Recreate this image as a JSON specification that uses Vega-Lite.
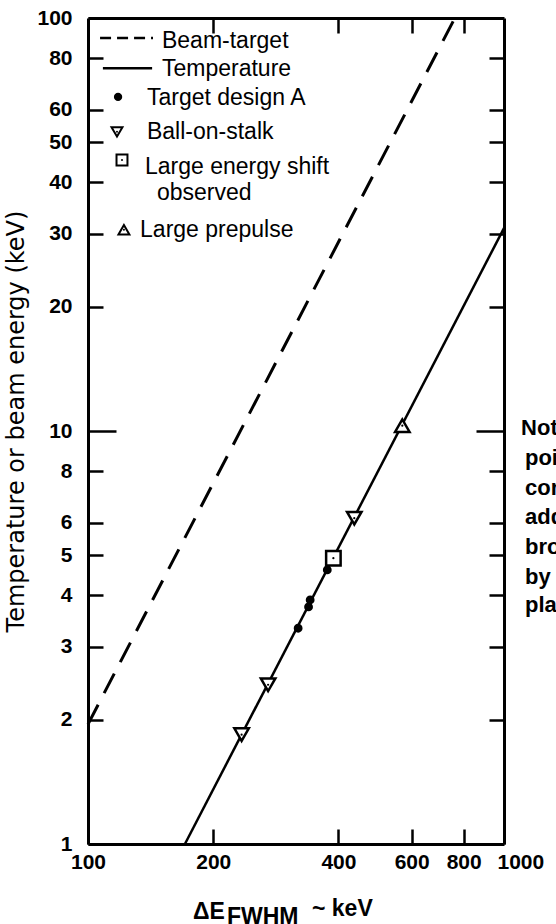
{
  "$schema": "https://vega.github.io/schema/vega-lite/v6.json",
  "width": 416,
  "height": 826,
  "autosize": {"type": "none"},
  "padding": {"left": 88, "top": 18, "right": 52, "bottom": 80},
  "background": "white",
  "config": {"view": {"stroke": null}, "axis": {"grid": false}},
  "datasets": {
    "lines": [
      {"series": "Beam-target", "x": 100, "y": 1.95},
      {"series": "Beam-target", "x": 762, "y": 100},
      {"series": "Temperature", "x": 171, "y": 1},
      {"series": "Temperature", "x": 1000, "y": 31}
    ],
    "points": [
      {"x": 569.6, "y": 10.3, "type": "Large prepulse"},
      {"x": 436.6, "y": 6.15, "type": "Ball-on-stalk"},
      {"x": 388.9, "y": 4.92, "type": "Large energy shift observed"},
      {"x": 376, "y": 4.61, "type": "Target design A"},
      {"x": 342, "y": 3.9, "type": "Target design A"},
      {"x": 339, "y": 3.75, "type": "Target design A"},
      {"x": 320, "y": 3.33, "type": "Target design A"},
      {"x": 271, "y": 2.43, "type": "Ball-on-stalk"},
      {"x": 234, "y": 1.84, "type": "Ball-on-stalk"}
    ],
    "legendLines": [
      {"series": "Beam-target", "x": 106.9, "x2": 143.3, "y": 89.5},
      {"series": "Temperature", "x": 108.6, "x2": 142.6, "y": 75.6}
    ],
    "legendSymbols": [
      {"x": 118.1, "y": 64.4, "type": "Target design A"},
      {"x": 117.4, "y": 53.0, "type": "Ball-on-stalk"},
      {"x": 120.7, "y": 45.3, "type": "Large energy shift observed"},
      {"x": 122.0, "y": 30.7, "type": "Large prepulse"}
    ],
    "legendText": [
      {"x": 150.6, "y": 88.0, "label": "Beam-target"},
      {"x": 150.6, "y": 75.4, "label": "Temperature"},
      {"x": 138.6, "y": 64.0, "label": "Target design A"},
      {"x": 138.6, "y": 53.0, "label": "Ball-on-stalk"},
      {"x": 137.1, "y": 43.6, "label": "Large energy shift"},
      {"x": 146.5, "y": 37.7, "label": "observed"},
      {"x": 133.4, "y": 30.7, "label": "Large prepulse"}
    ],
    "note": [
      {"x": 1099, "y": 10.17, "label": "Note: Data"},
      {"x": 1123, "y": 8.6, "label": "points"},
      {"x": 1123, "y": 7.28, "label": "corrected for"},
      {"x": 1123, "y": 6.19, "label": "additional"},
      {"x": 1123, "y": 5.24, "label": "broadening"},
      {"x": 1123, "y": 4.43, "label": "by"},
      {"x": 1123, "y": 3.79, "label": "plasma"}
    ],
    "xtitle": [
      {"x": 178.8, "y": 0.684, "label": "ΔE"},
      {"x": 215.8, "y": 0.664, "label": "FWHM"},
      {"x": 345.5, "y": 0.697, "label": "~ keV"}
    ]
  },
  "resolve": {"axis": {"x": "independent", "y": "independent"}},
  "layer": [
    {
      "data": {"name": "lines"},
      "transform": [{"filter": "datum.series == 'Beam-target'"}],
      "mark": {"type": "line", "stroke": "black", "strokeWidth": 3, "strokeDash": [22, 13]},
      "encoding": {
        "x": {"field": "x", "type": "quantitative",
          "scale": {"type": "log", "domain": [100, 1000], "nice": false},
          "axis": {"orient": "bottom", "title": null, "values": [100, 200, 400, 600, 800, 1000], "format": "d",
            "domain": true, "domainColor": "black", "domainWidth": 3,
            "ticks": true, "tickColor": "black", "tickWidth": 2.5, "tickSize": -15,
            "labelPadding": 22, "labelFont": "Liberation Sans", "labelFontWeight": "bold", "labelFontSize": 21,
            "labelAlign": {"condition": {"test": "datum.value == 1000", "value": "left"}, "value": "center"},
            "labelOffset": {"condition": {"test": "datum.value == 1000", "value": -7}, "value": 0},
            "labelColor": "black", "labelFlush": false, "labelOverlap": false, "grid": false}},
        "y": {"field": "y", "type": "quantitative",
          "scale": {"type": "log", "domain": [1, 100], "nice": false},
          "axis": {"orient": "left", "title": "Temperature or beam energy (keV)",
            "values": [1, 2, 3, 4, 5, 6, 8, 10, 20, 30, 40, 50, 60, 80, 100], "format": "d",
            "domain": true, "domainColor": "black", "domainWidth": 3,
            "ticks": true, "tickColor": "black", "tickWidth": 2.5,
            "tickSize": {"condition": {"test": "datum.value == 10", "value": -28}, "value": -15},
            "labelPadding": {"condition": {"test": "datum.value == 10", "value": 44}, "value": 31},
            "labelFont": "Liberation Sans", "labelFontWeight": "bold", "labelFontSize": 21,
            "labelColor": "black", "labelFlush": false, "labelOverlap": false, "grid": false,
            "titleFont": "DejaVu Sans", "titleFontSize": 24, "titleFontWeight": "normal", "titleColor": "black",
            "titleX": -60, "titleY": 403, "titleBaseline": "bottom", "titleAngle": -90}}
      }
    },
    {
      "data": {"name": "lines"},
      "transform": [{"filter": "datum.series == 'Temperature'"}],
      "mark": {"type": "line", "stroke": "black", "strokeWidth": 2.5},
      "encoding": {
        "x": {"field": "x", "type": "quantitative",
          "scale": {"type": "log", "domain": [100, 1000], "nice": false},
          "axis": {"orient": "top", "title": null, "labels": false, "values": [200, 400, 600, 800],
            "domain": true, "domainColor": "black", "domainWidth": 3,
            "ticks": true, "tickColor": "black", "tickWidth": 2.5, "tickSize": -15, "grid": false}},
        "y": {"field": "y", "type": "quantitative",
          "scale": {"type": "log", "domain": [1, 100], "nice": false},
          "axis": {"orient": "right", "title": null, "labels": false,
            "values": [2, 3, 4, 5, 6, 8, 10, 20, 30, 40, 50, 60, 80],
            "domain": true, "domainColor": "black", "domainWidth": 3,
            "ticks": true, "tickColor": "black", "tickWidth": 2.5,
            "tickSize": {"condition": {"test": "datum.value == 10", "value": -28}, "value": -15}, "grid": false}}
      }
    },
    {
      "data": {"name": "points"},
      "mark": {"type": "point", "stroke": "black", "strokeWidth": 2.5, "opacity": 1},
      "encoding": {
        "x": {"field": "x", "type": "quantitative", "scale": {"type": "log", "domain": [100, 1000], "nice": false}, "axis": null},
        "y": {"field": "y", "type": "quantitative", "scale": {"type": "log", "domain": [1, 100], "nice": false}, "axis": null},
        "shape": {"field": "type", "type": "nominal", "legend": null,
          "scale": {"domain": ["Target design A", "Ball-on-stalk", "Large energy shift observed", "Large prepulse"],
                    "range": ["circle", "triangle-down", "square", "triangle-up"]}},
        "fill": {"field": "type", "type": "nominal", "legend": null,
          "scale": {"domain": ["Target design A", "Ball-on-stalk", "Large energy shift observed", "Large prepulse"],
                    "range": ["black", "white", "white", "white"]}},
        "size": {"condition": {"test": "datum.type == 'Target design A'", "value": 40}, "value": 210}
      }
    },
    {
      "data": {"name": "points"},
      "transform": [{"filter": "datum.type != 'Target design A'"}],
      "mark": {"type": "circle", "color": "black", "size": 5, "opacity": 1},
      "encoding": {
        "x": {"field": "x", "type": "quantitative", "scale": {"type": "log", "domain": [100, 1000], "nice": false}, "axis": null},
        "y": {"field": "y", "type": "quantitative", "scale": {"type": "log", "domain": [1, 100], "nice": false}, "axis": null}
      }
    },
    {
      "data": {"name": "legendLines"},
      "transform": [{"filter": "datum.series == 'Beam-target'"}],
      "mark": {"type": "rule", "stroke": "black", "strokeWidth": 2.5, "strokeDash": [11, 6], "clip": false},
      "encoding": {
        "x": {"field": "x", "type": "quantitative", "scale": {"type": "log", "domain": [100, 1000], "nice": false}, "axis": null},
        "x2": {"field": "x2"},
        "y": {"field": "y", "type": "quantitative", "scale": {"type": "log", "domain": [1, 100], "nice": false}, "axis": null}
      }
    },
    {
      "data": {"name": "legendLines"},
      "transform": [{"filter": "datum.series == 'Temperature'"}],
      "mark": {"type": "rule", "stroke": "black", "strokeWidth": 2.5, "clip": false},
      "encoding": {
        "x": {"field": "x", "type": "quantitative", "scale": {"type": "log", "domain": [100, 1000], "nice": false}, "axis": null},
        "x2": {"field": "x2"},
        "y": {"field": "y", "type": "quantitative", "scale": {"type": "log", "domain": [1, 100], "nice": false}, "axis": null}
      }
    },
    {
      "data": {"name": "legendSymbols"},
      "mark": {"type": "point", "stroke": "black", "strokeWidth": 2, "opacity": 1},
      "encoding": {
        "x": {"field": "x", "type": "quantitative", "scale": {"type": "log", "domain": [100, 1000], "nice": false}, "axis": null},
        "y": {"field": "y", "type": "quantitative", "scale": {"type": "log", "domain": [1, 100], "nice": false}, "axis": null},
        "shape": {"field": "type", "type": "nominal", "legend": null},
        "fill": {"field": "type", "type": "nominal", "legend": null},
        "size": {"condition": {"test": "datum.type == 'Target design A'", "value": 40}, "value": 120}
      }
    },
    {
      "data": {"name": "legendSymbols"},
      "transform": [{"filter": "datum.type != 'Target design A'"}],
      "mark": {"type": "circle", "color": "black", "size": 4, "opacity": 1},
      "encoding": {
        "x": {"field": "x", "type": "quantitative", "scale": {"type": "log", "domain": [100, 1000], "nice": false}, "axis": null},
        "y": {"field": "y", "type": "quantitative", "scale": {"type": "log", "domain": [1, 100], "nice": false}, "axis": null}
      }
    },
    {
      "data": {"name": "legendText"},
      "mark": {"type": "text", "align": "left", "baseline": "middle", "font": "Liberation Sans", "fontSize": 23, "color": "black", "clip": false},
      "encoding": {
        "x": {"field": "x", "type": "quantitative", "scale": {"type": "log", "domain": [100, 1000], "nice": false}, "axis": null},
        "y": {"field": "y", "type": "quantitative", "scale": {"type": "log", "domain": [1, 100], "nice": false}, "axis": null},
        "text": {"field": "label"}
      }
    },
    {
      "data": {"name": "note"},
      "mark": {"type": "text", "align": "left", "baseline": "middle", "font": "Liberation Sans", "fontWeight": "bold", "fontSize": 22, "color": "black", "clip": false},
      "encoding": {
        "x": {"field": "x", "type": "quantitative", "scale": {"type": "log", "domain": [100, 1000], "nice": false}, "axis": null},
        "y": {"field": "y", "type": "quantitative", "scale": {"type": "log", "domain": [1, 100], "nice": false}, "axis": null},
        "text": {"field": "label"}
      }
    },
    {
      "data": {"name": "xtitle"},
      "mark": {"type": "text", "align": "left", "baseline": "middle", "font": "Liberation Sans", "fontWeight": "bold", "fontSize": 23, "color": "black", "clip": false},
      "encoding": {
        "x": {"field": "x", "type": "quantitative", "scale": {"type": "log", "domain": [100, 1000], "nice": false}, "axis": null},
        "y": {"field": "y", "type": "quantitative", "scale": {"type": "log", "domain": [1, 100], "nice": false}, "axis": null},
        "text": {"field": "label"}
      }
    }
  ]
}
